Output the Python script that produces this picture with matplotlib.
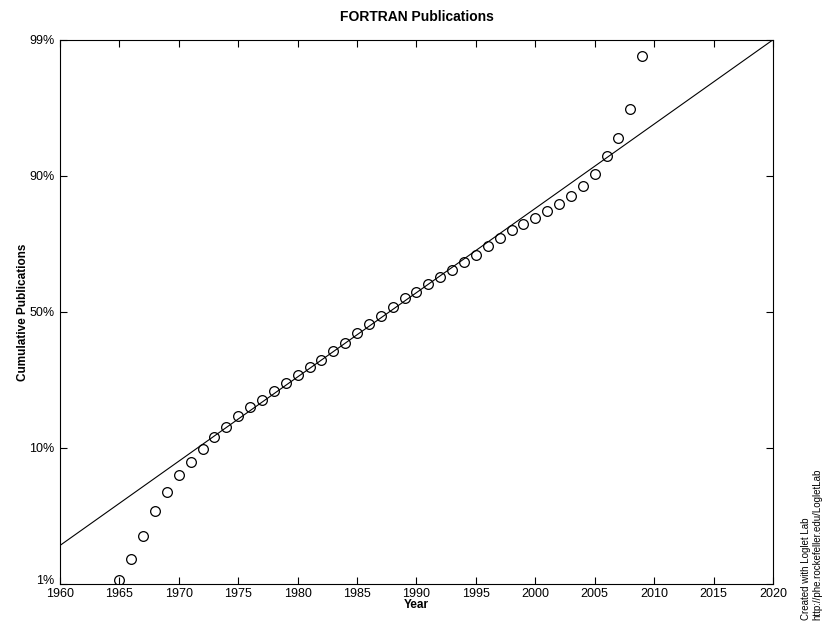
import numpy as np
import matplotlib
matplotlib.use("Agg")
import matplotlib.pyplot as plt
import matplotlib.transforms as mtransforms

plt.rcParams['font.family'] = ['Liberation Sans', 'DejaVu Sans']

# cumulative share of publications (percent)
years = [1965, 1966, 1967, 1968, 1969, 1970, 1971, 1972, 1973, 1974,
         1975, 1976, 1977, 1978, 1979, 1980, 1981, 1982, 1983, 1984,
         1985, 1986, 1987, 1988, 1989, 1990, 1991, 1992, 1993, 1994,
         1995, 1996, 1997, 1998, 1999, 2000, 2001, 2002, 2003, 2004,
         2005, 2006, 2007, 2008, 2009]
cum_pct = [1.06, 1.50, 2.20, 3.33, 4.53, 5.95, 7.31, 8.96, 10.75, 12.5,
           14.7, 16.7, 18.4, 20.8, 23.1, 25.6, 28.3, 30.7, 34.1, 37.2,
           41.2, 45.0, 48.3, 52.1, 55.9, 58.4, 61.6, 64.4, 67.1, 70.0,
           72.4, 75.3, 77.8, 80.0, 81.6, 83.1, 84.7, 86.2, 87.7, 89.4,
           91.2, 93.3, 95.0, 96.9, 98.7]

# logistic fit (Loglet Lab): midpoint and growth time (10% -> 90%)
midpoint = 1987.7
growth_time = 30.8
fit_years = [1960, 2020]

tick_labels = ['1%', '10%', '50%', '90%', '99%']
tick_odds = [-2, -1, 0, 1, 2]   # log10 odds the labels stand for


def fwd(p):
    p = np.clip(np.asarray(p, dtype=float), 1e-6, 100 - 1e-6)
    return np.log10(p / (100 - p))


def inv(v):
    v = np.asarray(v, dtype=float)
    return 100 * 10**v / (1 + 10**v)


fig = plt.figure(figsize=(8.29, 6.22), dpi=100)
ax = fig.add_axes([0.0724, 0.0611, 0.8600, 0.8746])
ax.set_yscale('function', functions=(fwd, inv))

fy = np.array(fit_years, dtype=float)
fit_pct = inv(np.log10(81) / growth_time * (fy - midpoint))
ax.plot(fy, fit_pct, color='black', lw=0.8)
ax.plot(years, cum_pct, 'o', mfc='none', mec='black', ms=7, mew=0.9)

ax.set_xlim(1960, 2020)
ax.set_ylim(inv(-2), inv(2))
ax.set_xticks(range(1960, 2021, 5))
ax.set_yticks(inv(tick_odds))
ax.set_yticklabels(tick_labels)
ax.tick_params(direction='in', top=True, right=True, length=5, width=0.8,
               labelsize=9)
ax.tick_params(axis='x', pad=3)
ax.tick_params(axis='y', pad=4)
ax.minorticks_off()
for s in ax.spines.values():
    s.set_linewidth(0.8)

# lift the bottom "1%" label a little so it clears "1960"
lbl = ax.get_yticklabels()[0]
lbl.set_transform(lbl.get_transform() + mtransforms.ScaledTranslation(0, 3 / 72, fig.dpi_scale_trans))

ax.set_title('FORTRAN Publications', fontsize=10, fontweight='bold', pad=14)
ax.set_xlabel('Year', fontsize=8.5, fontweight='bold', labelpad=-1)
ax.set_ylabel('Cumulative Publications', fontsize=8.5, fontweight='bold', labelpad=0)

fig.text(0.979, 0.004, 'Created with Loglet Lab\nhttp://phe.rockefeller.edu/LogletLab',
         rotation=90, fontsize=7, ha='center', va='bottom', ma='left')

fig.savefig('out.png', dpi=100)
